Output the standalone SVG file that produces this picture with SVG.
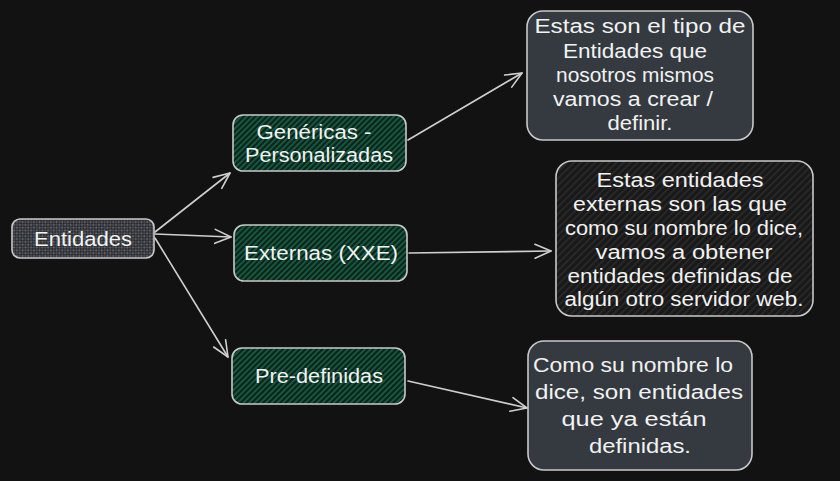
<svg xmlns="http://www.w3.org/2000/svg" width="840" height="481" viewBox="0 0 840 481">
<defs>
<pattern id="hGreen" width="4" height="4" patternUnits="userSpaceOnUse" patternTransform="rotate(45)">
<rect width="4" height="4" fill="#0a231b"/>
<rect width="1.8" height="4" fill="#185c43"/>
</pattern>
<pattern id="hGray" width="4" height="4" patternUnits="userSpaceOnUse" patternTransform="rotate(45)">
<rect width="4" height="4" fill="#2a2c30"/>
<rect width="2" height="2" fill="#5a5d62"/>
<rect x="2" y="2" width="2" height="2" fill="#4a4d52"/>
</pattern>
<pattern id="hDark" width="5" height="5" patternUnits="userSpaceOnUse" patternTransform="rotate(45)">
<rect width="5" height="5" fill="#191919"/>
<rect width="1.5" height="5" fill="#2c2c2c"/>
</pattern>
<marker id="arr" markerWidth="20" markerHeight="20" refX="18" refY="10" orient="auto" markerUnits="userSpaceOnUse">
<path d="M2,3 L18,10 L2,17" fill="none" stroke="#cfcfcf" stroke-width="1.6" stroke-linecap="round" stroke-linejoin="round"/>
</marker>
<style>
.box{stroke:#c9c9c9;stroke-width:1.6}
.t{font-family:"Liberation Sans",Arial,sans-serif;font-size:20px;fill:#f2f2f2;text-anchor:middle}
.c{fill:none;stroke:#cfcfcf;stroke-width:1.6;stroke-linecap:round}
</style>
</defs>
<rect width="840" height="481" fill="#121212"/>

<g id="connectors">
<path class="c" d="M155,232 L230,173" marker-end="url(#arr)"/>
<path class="c" d="M155,234 L231,237" marker-end="url(#arr)"/>
<path class="c" d="M155,238 L228,357" marker-end="url(#arr)"/>
<path class="c" d="M408,140 L522,73" marker-end="url(#arr)"/>
<path class="c" d="M409,253 L551,251" marker-end="url(#arr)"/>
<path class="c" d="M408,381 L527,408" marker-end="url(#arr)"/>
</g>

<g id="entidades">
<rect class="box" x="12" y="219" width="142" height="39" rx="8" fill="url(#hGray)"/>
<text class="t" x="83" y="246" textLength="98" lengthAdjust="spacingAndGlyphs">Entidades</text>
</g>

<g id="genericas">
<rect class="box" x="233" y="115" width="173" height="56" rx="10" fill="url(#hGreen)"/>
<text class="t" x="314" y="139" textLength="115" lengthAdjust="spacingAndGlyphs">Genéricas -</text>
<text class="t" x="319" y="162" textLength="148" lengthAdjust="spacingAndGlyphs">Personalizadas</text>
</g>

<g id="externas">
<rect class="box" x="234" y="225" width="173" height="56" rx="10" fill="url(#hGreen)"/>
<text class="t" x="321" y="260" textLength="154" lengthAdjust="spacingAndGlyphs">Externas (XXE)</text>
</g>

<g id="predefinidas">
<rect class="box" x="232" y="348" width="173" height="56" rx="10" fill="url(#hGreen)"/>
<text class="t" x="319" y="383" textLength="128" lengthAdjust="spacingAndGlyphs">Pre-definidas</text>
</g>

<g id="nota-genericas">
<rect class="box" x="527" y="11" width="226" height="129" rx="16" fill="#343a40"/>
<text class="t" x="640" y="33" textLength="211" lengthAdjust="spacingAndGlyphs">Estas son el tipo de</text>
<text class="t" x="635" y="58" textLength="144" lengthAdjust="spacingAndGlyphs">Entidades que</text>
<text class="t" x="635" y="82" textLength="158" lengthAdjust="spacingAndGlyphs">nosotros mismos</text>
<text class="t" x="633" y="106" textLength="160" lengthAdjust="spacingAndGlyphs">vamos a crear /</text>
<text class="t" x="640" y="130" textLength="65" lengthAdjust="spacingAndGlyphs">definir.</text>
</g>

<g id="nota-externas">
<rect class="box" x="556" y="161" width="257" height="155" rx="16" fill="url(#hDark)"/>
<text class="t" x="680" y="187" textLength="167" lengthAdjust="spacingAndGlyphs">Estas entidades</text>
<text class="t" x="680" y="211" textLength="214" lengthAdjust="spacingAndGlyphs">externas son las que</text>
<text class="t" x="684" y="235" textLength="238" lengthAdjust="spacingAndGlyphs">como su nombre lo dice,</text>
<text class="t" x="684" y="259" textLength="177" lengthAdjust="spacingAndGlyphs">vamos a obtener</text>
<text class="t" x="680" y="283" textLength="225" lengthAdjust="spacingAndGlyphs">entidades definidas de</text>
<text class="t" x="684" y="306" textLength="239" lengthAdjust="spacingAndGlyphs">algún otro servidor web.</text>
</g>

<g id="nota-predefinidas">
<rect class="box" x="528" y="341" width="224" height="129" rx="16" fill="#343a40"/>
<text class="t" x="633" y="372" textLength="200" lengthAdjust="spacingAndGlyphs">Como su nombre lo</text>
<text class="t" x="639" y="399" textLength="208" lengthAdjust="spacingAndGlyphs">dice, son entidades</text>
<text class="t" x="634" y="426" textLength="145" lengthAdjust="spacingAndGlyphs">que ya están</text>
<text class="t" x="640" y="453" textLength="102" lengthAdjust="spacingAndGlyphs">definidas.</text>
</g>
</svg>
